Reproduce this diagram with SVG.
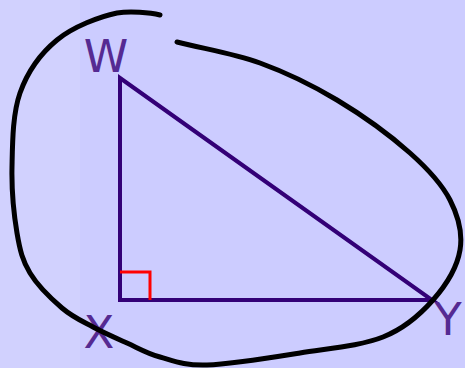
<svg xmlns="http://www.w3.org/2000/svg" width="465" height="368" viewBox="0 0 465 368">
<style>
.lbl{font-family:"DejaVu Sans","Liberation Sans",sans-serif;font-size:45px;fill:#552a92;text-anchor:middle}
.tri{fill:none;stroke:#330077;stroke-width:4;stroke-linejoin:miter}
.ra{fill:none;stroke:#ff0000;stroke-width:3}
.loop{fill:none;stroke:#000;stroke-width:5;stroke-linecap:round;stroke-linejoin:round}
</style>
<rect x="0" y="0" width="465" height="368" fill="#ccccff"/>
<rect x="0" y="0" width="80" height="368" fill="#d1d1fe"/>
<g id="triangle">
<path class="tri" d="M120,78 L120,300 L432,300 Z"/>
<path class="ra" d="M120,272 L150,272 L150,300"/>
</g>
<g id="W"><text class="lbl" x="106" y="72">W</text></g>
<g id="X"><text class="lbl" x="99" y="348">X</text></g>
<g id="Y"><text class="lbl" x="448" y="335">Y</text></g>
<g id="connectors">
<path class="loop" d="M160,15 C150,12.5 130,11 117,13 C100,16.5 73.2,26.7 57,40 C40.8,53.3 27.5,71.8 20,93 C12.5,114.2 12.5,143.7 12,167 C11.5,190.3 14,215.3 17,233 C20,250.7 22.5,260.5 30,273 C37.5,285.5 51.5,299 62,308 C72.5,317 82.2,321.2 93,327 C103.8,332.8 115.8,338 127,343 C138.2,348 146.7,353.3 160,357 C173.3,360.7 183.7,365.7 207,365 C230.3,364.3 270.7,357.7 300,353 C329.3,348.3 360.8,345.8 383,337 C405.2,328.2 420.2,314.5 433,300 C445.8,285.5 457.2,266.7 460,250 C462.8,233.3 458.3,216.2 450,200 C441.7,183.8 428.8,169.7 410,153 C391.2,136.3 362,115 337,100 C312,85 286.7,72.7 260,63 C233.3,53.3 204.7,49 177,42"/>
</g>
</svg>
